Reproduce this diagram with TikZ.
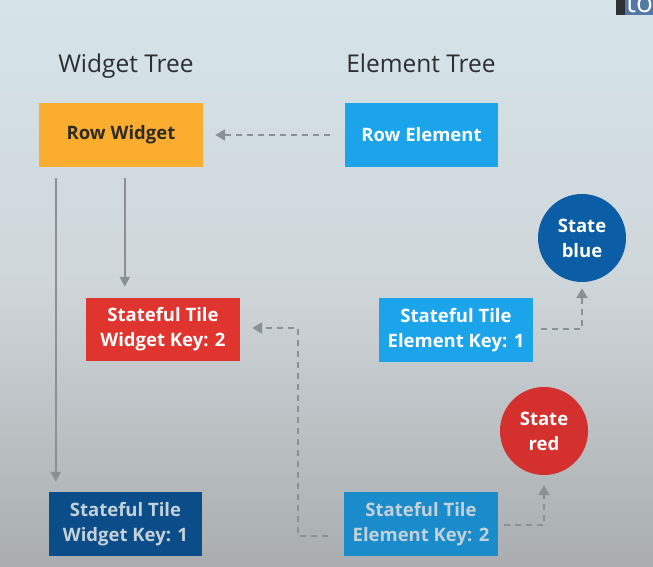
\documentclass[tikz,border=0pt]{standalone}
\usepackage{fontspec}
\setmainfont{Open Sans}
\usetikzlibrary{arrows.meta,calc}
\definecolor{bgtop}{HTML}{D5E4E9}
\definecolor{bgmid}{HTML}{CFD6D9}
\definecolor{bgbot}{HTML}{A9ADAF}
\definecolor{orangebox}{HTML}{FBAD30}
\definecolor{lightblue}{HTML}{1CA4EB}
\definecolor{redbox}{HTML}{E0342F}
\definecolor{stateblue}{HTML}{0B5DA5}
\definecolor{statered}{HTML}{D3302E}
\definecolor{fadeblue}{HTML}{1A8CCB}
\definecolor{darkblue}{HTML}{0A4D88}
\definecolor{fadetext}{HTML}{C4D1D8}
\definecolor{titletext}{HTML}{2B2F31}
\definecolor{arrowgray}{HTML}{8C9092}
\tikzset{
  box/.style={rectangle, minimum width=154pt, minimum height=64pt, inner sep=0pt,
    align=center, font=\fontsize{18.5}{25}\selectfont\bfseries, text=white},
  statecircle/.style={circle, minimum size=88pt, inner sep=0pt, align=center,
    font=\fontsize{18.5}{25}\selectfont\bfseries, text=white},
  title/.style={anchor=base, inner sep=0pt, font=\fontsize{24.5}{28}\selectfont, text=titletext},
  solidarrow/.style={draw=arrowgray, line width=2pt, -{Triangle[length=10pt,width=10pt]}},
  dasharrow/.style={draw=arrowgray, line width=2.4pt, dash pattern=on 6pt off 5pt,
    -{Triangle[length=10pt,width=11pt]}},
}
\begin{document}
\begin{tikzpicture}[x=1pt,y=1pt]
\useasboundingbox (0,0) rectangle (653,567);
\shade[top color=bgtop, bottom color=bgbot, middle color=bgmid] (0,0) rectangle (653,567);
% overlay corner
\fill[fill={rgb,255:red,47;green,49;blue,51}] (616,552) rectangle (625,567);
\fill[fill={rgb,255:red,84;green,120;blue,165}] (625,552) rectangle (653,567);
\begin{scope}
\clip (625,552) rectangle (653,567);
\node[anchor=base west, inner sep=0pt, text=white, font=\fontsize{28}{28}\selectfont] (ovl) at (626,554) {to};
\end{scope}
% titles
\node[title] (wt) at (126,494) {Widget Tree};
\node[title] (et) at (421,494) {Element Tree};
% boxes
\node[box, fill=orangebox, text={rgb,255:red,46;green,43;blue,34}, minimum width=164pt] (rw) at (121,432) {Row Widget};
\node[box, fill=lightblue, minimum width=153pt] (re) at (421.5,432) {Row Element};
\node[box, fill=redbox, minimum height=63pt] (wk2) at (163,237.5) {Stateful Tile\\Widget Key: 2};
\node[box, fill=lightblue] (ek1) at (456,237) {Stateful Tile\\Element Key: 1};
\node[box, fill=fadeblue, text=fadetext] (ek2) at (421,43) {Stateful Tile\\Element Key: 2};
\node[box, fill=darkblue, text=fadetext, minimum width=153pt] (wk1) at (125.5,43) {Stateful Tile\\Widget Key: 1};
\node[statecircle, fill=stateblue] (sb) at (582,329) {State\\blue};
\node[statecircle, fill=statered] (sr) at (544,136) {State\\red};
% connectors
\draw[dasharrow] ([xshift=-15pt]re.west) -- ([xshift=12pt]rw.east);
\draw[solidarrow] ([xshift=17pt,yshift=-11pt]rw.south west) -- ([xshift=7pt,yshift=10pt]wk1.north west);
\draw[solidarrow] ([xshift=86pt,yshift=-11pt]rw.south west) -- ([xshift=39pt,yshift=11pt]wk2.north west);
\draw[dasharrow] ([xshift=-16pt,yshift=-12pt]ek2.west) -| (298,239) -- ([xshift=12pt,yshift=1.5pt]wk2.east);
\draw[dasharrow] ([xshift=8pt,yshift=1pt]ek1.east) -| ([yshift=-6pt]sb.south);
\draw[dasharrow] ([xshift=6pt,yshift=-1pt]ek2.east) -| ([yshift=-10pt]sr.south);
\end{tikzpicture}
\end{document}
